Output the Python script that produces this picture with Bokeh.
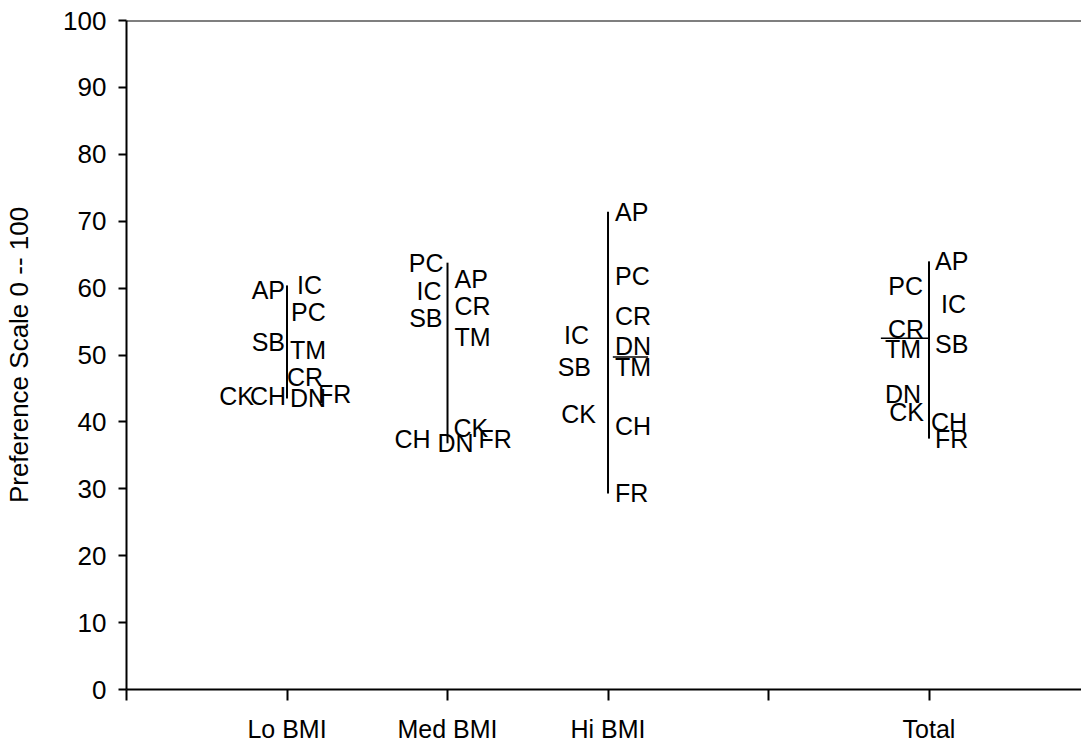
from bokeh.plotting import figure
from bokeh.models import ColumnDataSource, FixedTicker, Span
from bokeh.core.properties import value
from bokeh.embed import file_html
from bokeh.resources import INLINE

# ---- data ----
group_names = ["Lo BMI", "Med BMI", "Hi BMI", "Total"]
group_pos = [1, 2, 3, 5]

lo_labels = ["AP", "IC", "PC", "SB", "TM", "CR", "DN", "CH", "CK", "FR"]
lo_values = [59.7, 60.4, 56.4, 51.9, 50.7, 46.7, 43.5, 43.8, 43.8, 44.2]

med_labels = ["PC", "AP", "IC", "CR", "SB", "TM", "CK", "CH", "DN", "FR"]
med_values = [63.8, 61.3, 59.5, 57.3, 55.6, 52.7, 39.1, 37.5, 36.8, 37.5]

hi_labels = ["AP", "PC", "CR", "IC", "DN", "TM", "SB", "CK", "CH", "FR"]
hi_values = [71.4, 61.8, 55.8, 53.0, 51.3, 48.2, 48.2, 41.2, 39.4, 29.3]

tot_labels = ["AP", "PC", "IC", "CR", "SB", "TM", "DN", "CK", "CH", "FR"]
tot_values = [64.0, 60.3, 57.6, 53.9, 51.6, 50.9, 44.2, 41.5, 40.0, 37.5]

# leader lines (value marks drawn beside a displaced label)
hi_leader = 49.7
tot_leader = 52.5

# label placement (layout only): side of the line and pixel offset
lo_side = ["L", "R", "R", "L", "R", "R", "R", "L", "L", "R"]
lo_dx = [-2, 10, 4, -2, 3, 0, 3, -1, -33, 31]
med_side = ["L", "R", "L", "R", "L", "R", "R", "L", "R", "R"]
med_dx = [-4, 7, -6, 7, -5, 7, 6, -17, -10, 31]
hi_side = ["R", "R", "R", "L", "R", "R", "L", "L", "R", "R"]
hi_dx = [7, 7, 7, -19, 7, 7, -17, -12, 7, 7]
tot_side = ["R", "L", "R", "L", "R", "L", "L", "L", "R", "R"]
tot_dx = [6, -6, 12, -5, 6, -8, -8, -5, 2, 6]

groups = [
    (lo_labels, lo_values, lo_side, lo_dx),
    (med_labels, med_values, med_side, med_dx),
    (hi_labels, hi_values, hi_side, hi_dx),
    (tot_labels, tot_values, tot_side, tot_dx),
]

p = figure(width=1081, height=745, x_range=(0, 5.95), y_range=(0, 100),
           output_backend="svg", toolbar_location=None,
           min_border_left=126, min_border_right=0, min_border_top=20,
           min_border_bottom=53)
p.outline_line_color = None
p.grid.grid_line_color = None
p.background_fill_color = "white"

FONT = "Liberation Sans"

for (labs, vals, sides, dxs), gx in zip(groups, group_pos):
    p.segment(x0=[gx], x1=[gx], y0=[min(vals)], y1=[max(vals)],
              line_color="black", line_width=2)
    for side, align in (("L", "right"), ("R", "left")):
        idx = [i for i, s in enumerate(sides) if s == side]
        if not idx:
            continue
        src = ColumnDataSource(dict(
            x=[gx] * len(idx),
            y=[vals[i] for i in idx],
            t=[labs[i] for i in idx],
            dx=[dxs[i] for i in idx],
        ))
        p.text(x="x", y="y", text="t", x_offset="dx", source=src,
               text_align=align, text_baseline="middle",
               text_font=value(FONT), text_font_size="25px",
               text_color="black")

# leader marks
p.segment(x0=[group_pos[2] + 0.03, group_pos[3] - 0.3],
          x1=[group_pos[2] + 0.25, group_pos[3]],
          y0=[hi_leader, tot_leader], y1=[hi_leader, tot_leader],
          line_color="black", line_width=1.5)

# top border line
p.add_layout(Span(location=100, dimension="width", line_color="black", line_width=2))

# axes
p.yaxis.ticker = FixedTicker(ticks=list(range(0, 101, 10)))
p.yaxis.axis_label = "Preference Scale 0 -- 100"
p.yaxis.axis_label_text_font = FONT
p.yaxis.axis_label_text_font_size = "26px"
p.yaxis.axis_label_text_font_style = "normal"
p.yaxis.axis_label_text_color = "black"
p.yaxis.axis_label_standoff = 26
p.yaxis.major_label_text_font = FONT
p.yaxis.major_label_text_font_size = "26px"
p.yaxis.major_tick_out = 8
p.yaxis.major_tick_in = 0
p.yaxis.minor_tick_out = 0
p.yaxis.minor_tick_in = 0
p.yaxis.major_label_standoff = 12

p.xaxis.ticker = FixedTicker(ticks=[0, 1, 2, 3, 4, 5])
p.xaxis.major_label_overrides = {0: "", 1: group_names[0], 2: group_names[1],
                                 3: group_names[2], 4: "", 5: group_names[3]}
p.xaxis.major_label_text_font = FONT
p.xaxis.major_label_text_font_size = "25px"
p.xaxis.major_tick_out = 11
p.xaxis.major_tick_in = 0
p.xaxis.minor_tick_out = 0
p.xaxis.minor_tick_in = 0
p.xaxis.major_label_standoff = 14

for ax in (p.xaxis, p.yaxis):
    ax.axis_line_width = 2
    ax.major_tick_line_width = 2
    ax.axis_line_color = "black"
    ax.major_tick_line_color = "black"
    ax.major_label_text_color = "black"

open("out.html", "w").write(file_html(p, INLINE))
